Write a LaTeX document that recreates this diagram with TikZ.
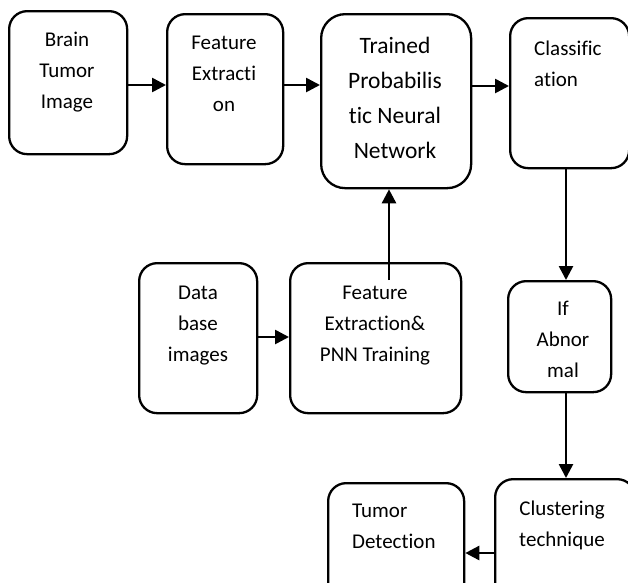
\documentclass[tikz,border=0pt]{standalone}
\usepackage{fontspec}
\setmainfont{Carlito}[Ligatures={NoCommon,NoContextual}]
\usetikzlibrary{arrows.meta}
\tikzset{
  box/.style={draw, line width=2.3pt, rounded corners=18pt, inner sep=0pt, anchor=north west},
  txt/.style={inner sep=0pt, anchor=base, align=center, font=\fontsize{21pt}{31pt}\selectfont},
  txtl/.style={txt, align=left, anchor=base west},
  big/.style={font=\fontsize{23.5pt}{35pt}\selectfont},
  arr/.style={line width=2.6pt, -{Triangle[length=14pt,width=14pt]}}
}
\begin{document}
\begin{tikzpicture}[x=1pt,y=-1pt]
\useasboundingbox (0,0) rectangle (628,582);
\clip (0,0) rectangle (628,582);
% boxes
\node[box, minimum width=118pt, minimum height=143pt] (b1) at (8,10) {};
\node[box, minimum width=116pt, minimum height=150pt] (b2) at (166,13) {};
\node[box, minimum width=150pt, minimum height=174pt, rounded corners=24pt] (b3) at (320,13) {};
\node[box, minimum width=119pt, minimum height=150pt] (b4) at (509,17) {};
\node[box, minimum width=118pt, minimum height=150pt] (b6) at (138,262) {};
\node[box, minimum width=171pt, minimum height=150pt] (b7) at (289,262) {};
\node[box, minimum width=103pt, minimum height=111pt] (b5) at (507,280) {};
\node[box, minimum width=140pt, minimum height=130pt] (b8) at (494,478) {};
\node[box, minimum width=136pt, minimum height=130pt] (b9) at (327,482) {};
% texts (anchored at the baseline of the last line)
\node[txt] (t1) at (67,108) {Brain\\Tumor\\Image};
\node[txt] (t2) at (224,111) {Feature\\Extracti\\on};
\node[txt, big] (t3) at (395,158) {Trained\\Probabilis\\tic Neural\\Network};
\node[txtl] (t4) at (534,86) {Classific\\ation};
\node[txt] (t6) at (198,361) {Data\\base\\images};
\node[txt] (t7) at (375,361) {Feature\\Extraction\&\\PNN Training};
\node[txt] (t5) at (563,377) {If\\Abnor\\mal};
\node[txt] (t8) at (562,546) {Clustering\\technique};
\node[txtl] (t9) at (352,548) {Tumor\\Detection};
% helper coordinates
\coordinate (ya) at (0,85);
\coordinate (yb) at (0,86);
\coordinate (xc) at (389,0);
\coordinate (xd) at (566,0);
\coordinate (ye) at (0,337);
\coordinate (yf) at (0,553);
% connectors
\draw[arr] (b1.east |- ya) -- (b2.west |- ya);
\draw[arr] ([xshift=-2pt]b2.east |- ya) -- (b3.west |- ya);
\draw[arr] (b3.east |- yb) -- (b4.west |- yb);
\draw[arr] ([yshift=-18pt]b7.north -| xc) -- (b3.south -| xc);
\draw[arr] (b4.south -| xd) -- (b5.north -| xd);
\draw[arr] (b5.south -| xd) -- (b8.north -| xd);
\draw[arr] (b6.east |- ye) -- (b7.west |- ye);
\draw[arr] (b8.west |- yf) -- (b9.east |- yf);
\end{tikzpicture}
\end{document}
